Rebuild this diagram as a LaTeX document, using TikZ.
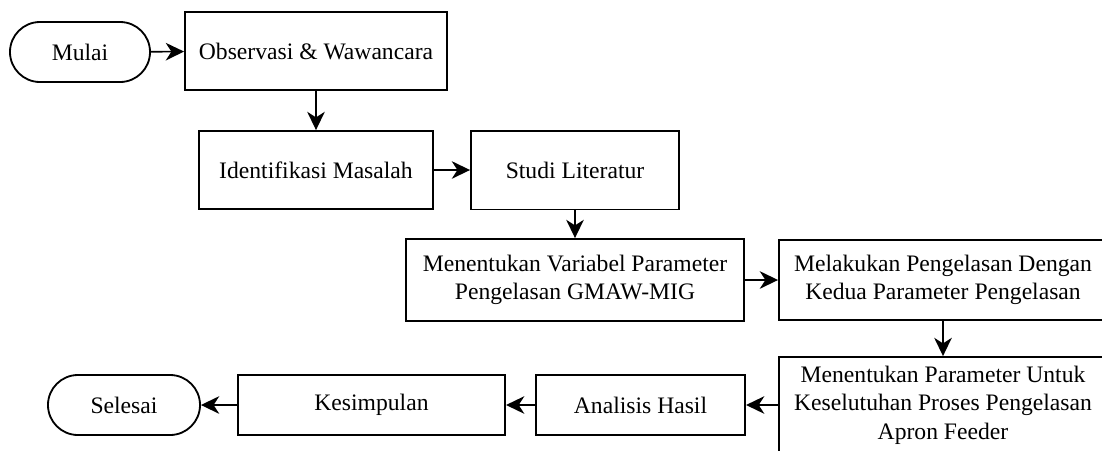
\documentclass[tikz,border=0pt]{standalone}
\usepackage{fontspec}
\setmainfont{Liberation Serif}
\usetikzlibrary{arrows.meta}

\begin{document}
\begin{tikzpicture}[
    x=0.025cm, y=-0.025cm,
    proc/.style={draw=black, line width=1.3pt, fill=white, inner sep=0pt,
                 align=center, font=\fontsize{16.8}{20.3}\selectfont},
    term/.style={proc, rounded corners=0.75cm, minimum height=1.5cm},
    arr/.style={-{Stealth[length=13pt, width=12.5pt, inset=4pt]}, line width=1.2pt}
]
  \useasboundingbox (0,0) rectangle (1102,450);
  % Start and first row
  \node[term, minimum width=3.5cm] (mulai) at (80,52) {Mulai};
  \node[proc, minimum width=6.55cm, minimum height=1.95cm] (obs) at (316,51) {Observasi \& Wawancara};
  % Second row
  \node[proc, minimum width=5.83cm, minimum height=1.95cm] (idm) at (316,170) {Identifikasi Masalah};
  \node[proc, minimum width=5.2cm, minimum height=1.97cm] (studi) at (575,170) {Studi Literatur};
  % Third row
  \node[proc, minimum width=8.45cm, minimum height=2.05cm] (varpar) at (575,280)
    {Menentukan Variabel Parameter\\Pengelasan GMAW-MIG};
  \node[proc, minimum width=8.2cm, minimum height=2cm] (las) at (943,280)
    {Melakukan Pengelasan Dengan\\Kedua Parameter Pengelasan};
  % Last row, right to left
  \node[proc, minimum width=8.2cm, minimum height=2.4cm] (parproses) at (943,405)
    {Menentukan Parameter Untuk\\Keselutuhan Proses Pengelasan\\Apron Feeder};
  \node[proc, minimum width=5.23cm, minimum height=1.5cm] (analisis) at (640.5,405) {Analisis Hasil};
  \node[proc, minimum width=6.68cm, minimum height=1.5cm] (kesimpulan) at (371.5,405) {Kesimpulan};
  \node[term, minimum width=3.8cm] (selesai) at (124,405) {Selesai};
  % Flow
  \draw[arr] (mulai) -- (obs);
  \draw[arr] (obs) -- (idm);
  \draw[arr] (idm) -- (studi);
  \draw[arr] (studi) -- (varpar);
  \draw[arr] (varpar) -- (las);
  \draw[arr] (las) -- (parproses);
  \draw[arr] (parproses) -- (analisis);
  \draw[arr] (analisis) -- (kesimpulan);
  \draw[arr] (kesimpulan) -- (selesai);
\end{tikzpicture}
\end{document}
